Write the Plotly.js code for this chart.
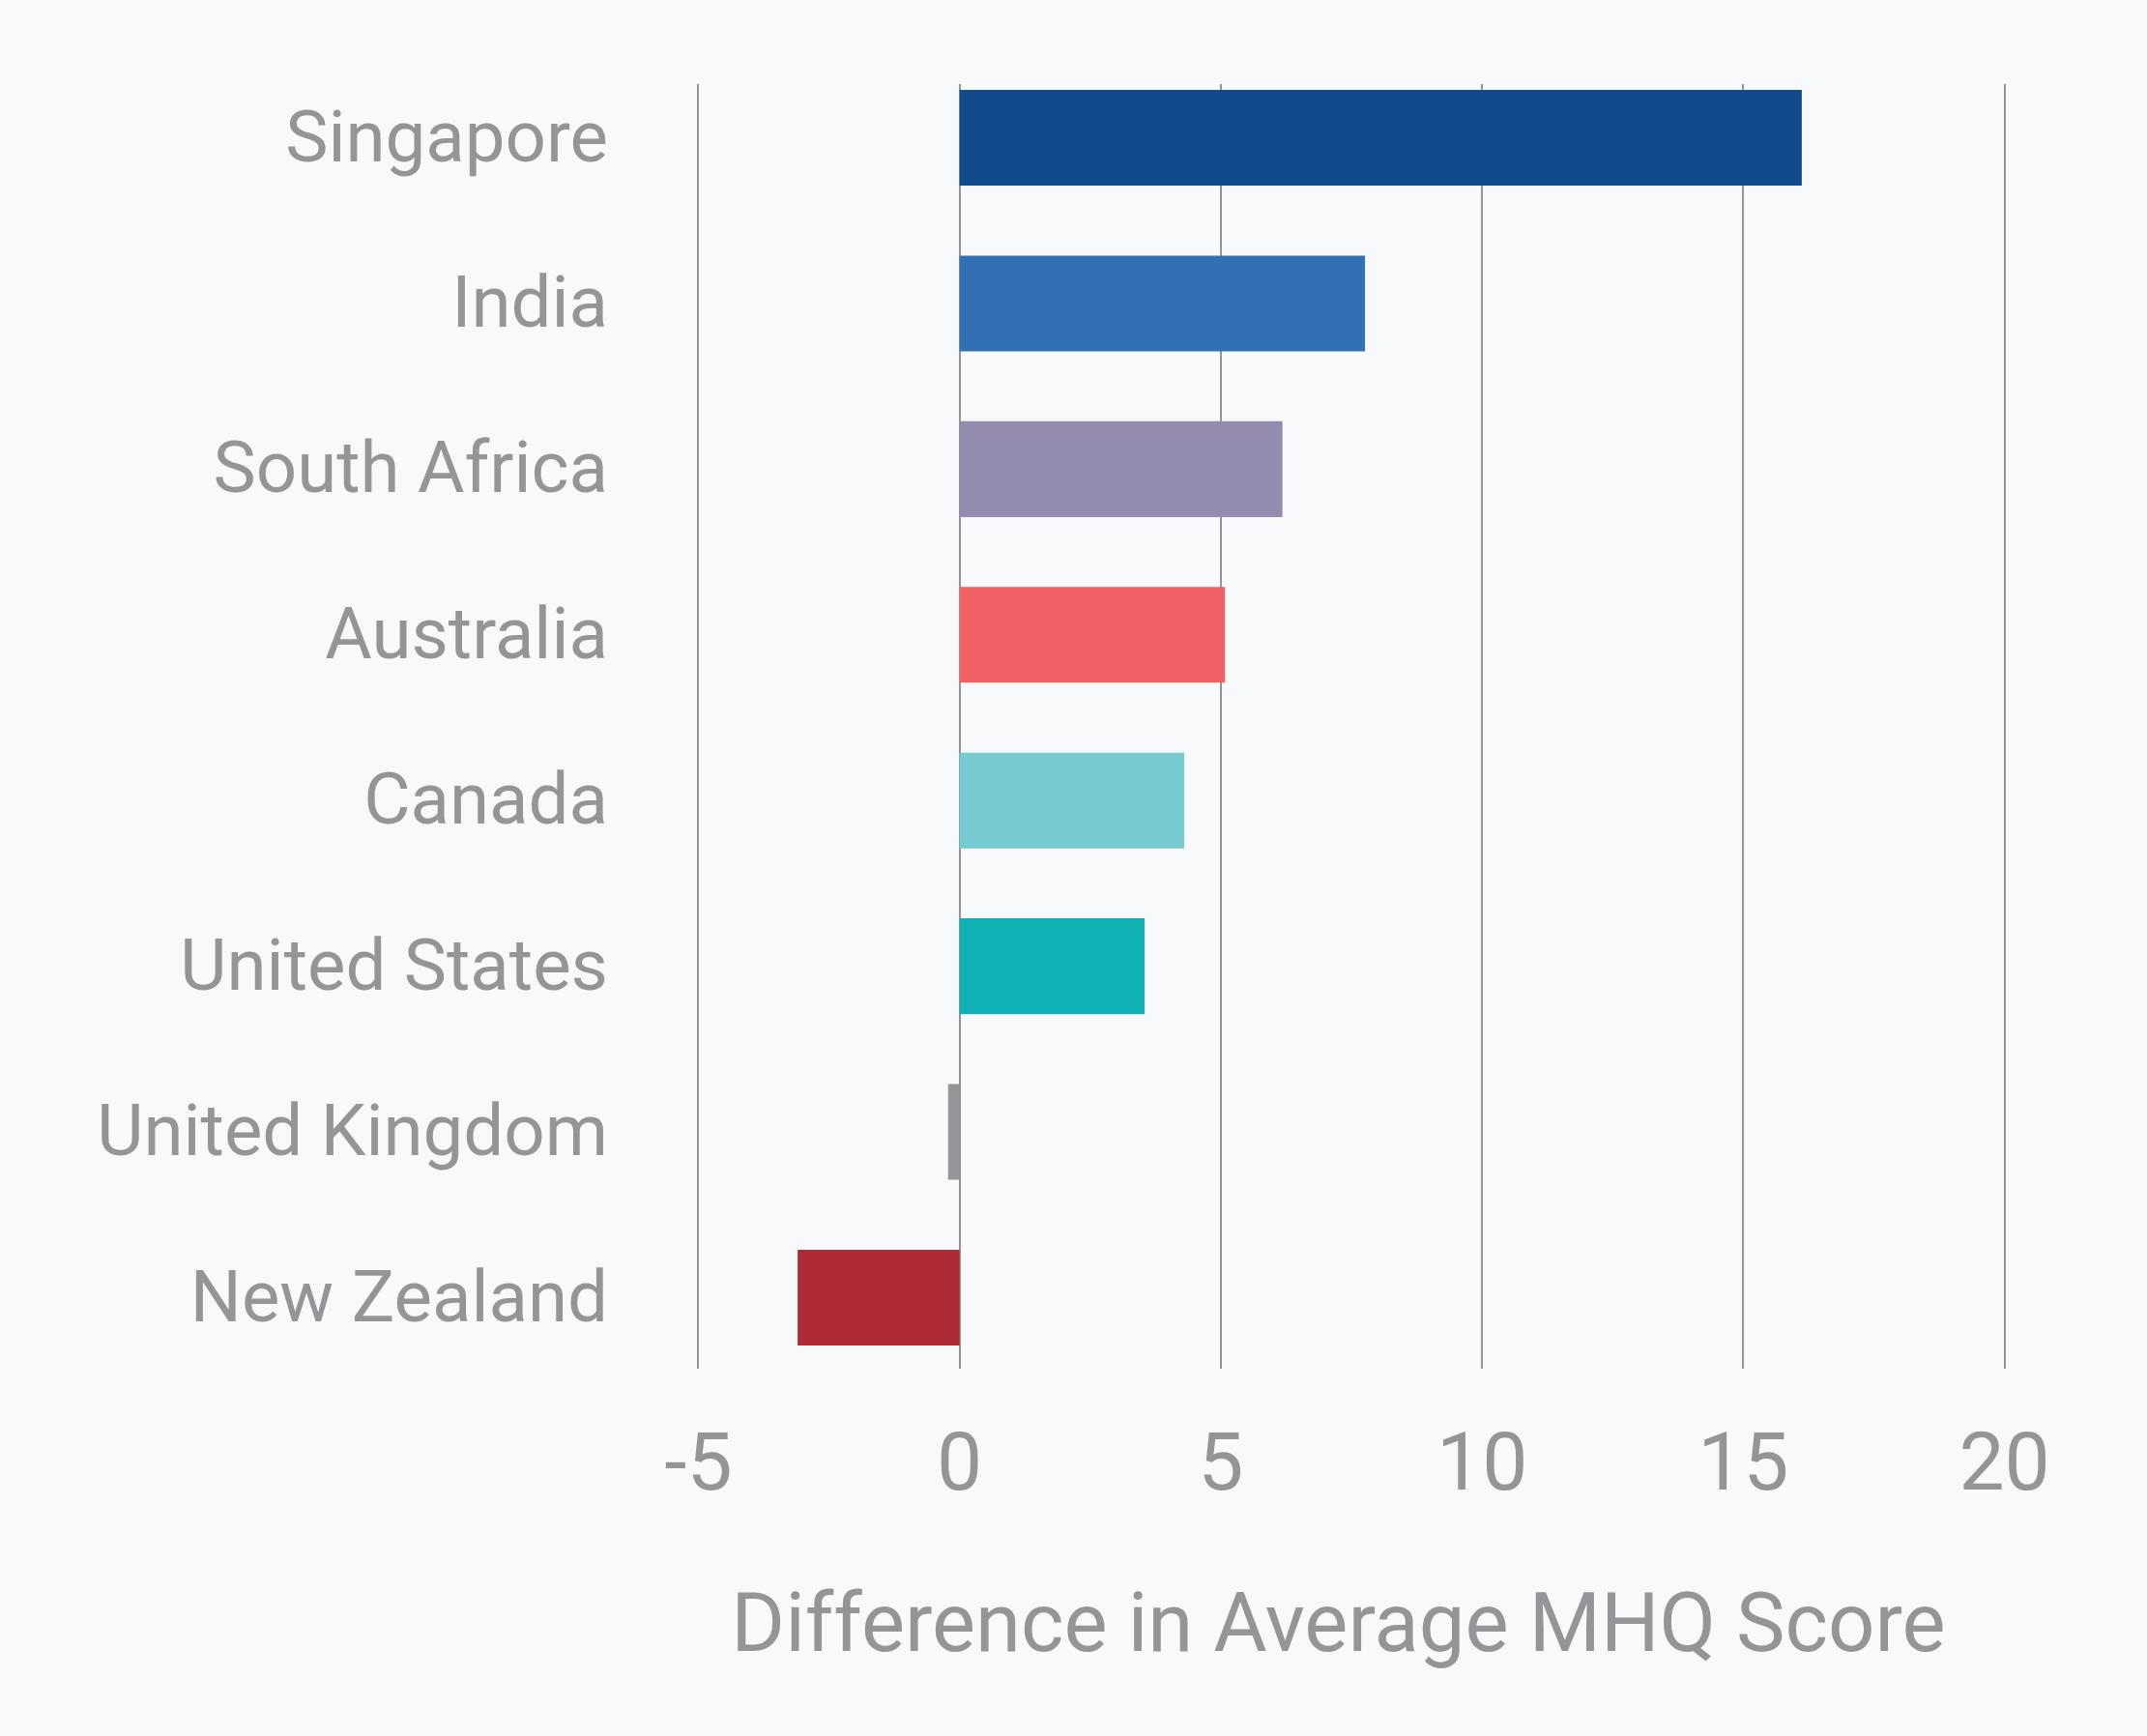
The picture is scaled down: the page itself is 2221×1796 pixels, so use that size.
<!DOCTYPE html>
<html>
<head>
<meta charset="utf-8">
<script src="https://cdn.plot.ly/plotly-3.0.1.min.js"></script>
<style>
html,body{margin:0;padding:0;background:#f8f9fb;}
#chart{width:2221px;height:1796px;}
</style>
</head>
<body>
<div id="chart"></div>
<script>
// Data (bottom to top)
const countries = ["New Zealand","United Kingdom","United States","Canada","Australia","South Africa","India","Singapore"];
const diffValues = [-3.1, -0.22, 3.54, 4.3, 5.08, 6.18, 7.76, 16.12];
const barColors = ["#af2b33","#939598","#10b1b4","#76cbd0","#f06065","#938caf","#3170b5","#124b8c"];
const xTickVals = [-5, 0, 5, 10, 15, 20];
const xTitle = "Difference in Average MHQ Score";

const gray = "#939598";
const trace = {
  type: "bar",
  orientation: "h",
  y: countries,
  x: diffValues,
  marker: {color: barColors, line: {width: 0}},
  hoverinfo: "skip"
};

const layout = {
  width: 2221,
  height: 1796,
  paper_bgcolor: "#f8f9fb",
  plot_bgcolor: "#f8f9fb",
  margin: {l: 689.5, r: 141.6, t: 87, b: 380, pad: 0},
  bargap: 0.422,
  showlegend: false,
  font: {family: "Roboto, sans-serif", color: gray},
  xaxis: {
    range: [-5.6, 20.1],
    tickvals: xTickVals,
    ticktext: xTickVals.map(String),
    showgrid: true,
    gridcolor: gray,
    gridwidth: 2,
    zeroline: true,
    zerolinecolor: gray,
    zerolinewidth: 2,
    showline: false,
    ticks: "",
    ticklabelstandoff: 40,
    tickfont: {family: "Roboto, sans-serif", size: 84, color: gray},
    title: {text: xTitle, font: {family: "Roboto, sans-serif", size: 85, color: gray}, standoff: 87}
  },
  yaxis: {
    type: "category",
    categoryorder: "array",
    categoryarray: countries,
    range: [-0.429, 7.324],
    showgrid: false,
    zeroline: false,
    showline: false,
    ticks: "",
    ticklabelstandoff: 60,
    ticklabelshift: -2,
    tickfont: {family: "Roboto, sans-serif", size: 74.4, color: gray}
  }
};

Plotly.newPlot("chart", [trace], layout, {displayModeBar: false, staticPlot: true});
</script>
</body>
</html>
